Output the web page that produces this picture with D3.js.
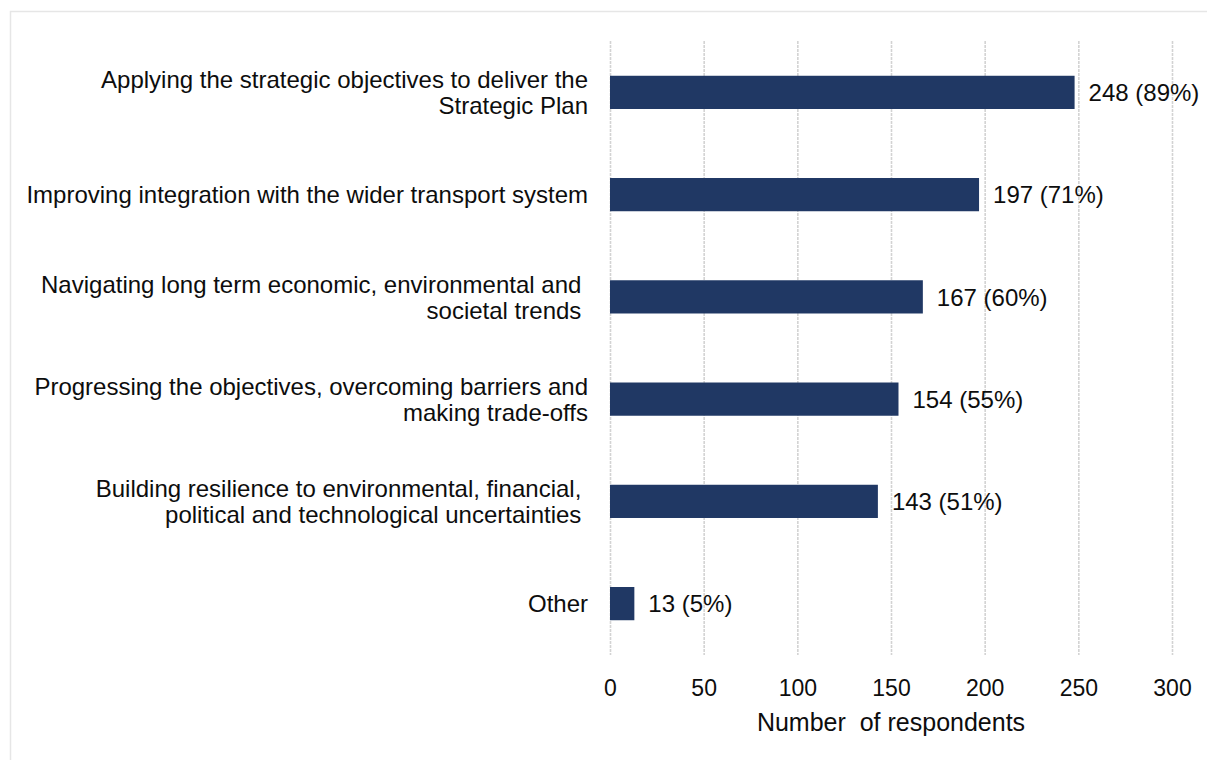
<!DOCTYPE html>
<html>
<head>
<meta charset="utf-8">
<script src="https://cdn.jsdelivr.net/npm/d3@7/dist/d3.min.js"></script>
<style>
  html, body { margin: 0; padding: 0; background: #fff; }
  svg text { font-family: "Liberation Sans", Arial, sans-serif; fill: #0d0d0d; white-space: pre; }
</style>
</head>
<body>
<svg id="chart" width="1207" height="760"></svg>
<script>
// Categories (each entry is the lines of its label)
const categories = [
  ["Applying the strategic objectives to deliver the", "Strategic Plan"],
  ["Improving integration with the wider transport system"],
  ["Navigating long term economic, environmental and ", "societal trends "],
  ["Progressing the objectives, overcoming barriers and", "making trade-offs"],
  ["Building resilience to environmental, financial, ", "political and technological uncertainties "],
  ["Other"]
];
const respondents = [248, 197, 167, 154, 143, 13];
const percents = [89, 71, 60, 55, 51, 5];
const xTicks = [0, 50, 100, 150, 200, 250, 300];
const axisTitle = "Number  of respondents";

const svg = d3.select("#chart");

// light outer frame
svg.append("rect")
  .attr("x", 10.5).attr("y", 11.5)
  .attr("width", 1220).attr("height", 780)
  .attr("fill", "none").attr("stroke", "#e6e6e6").attr("stroke-width", 1.5);

const plot = { left: 610, right: 1172, top: 41, bottom: 655 };

const x = d3.scaleLinear().domain([0, 300]).range([plot.left, plot.right]);
const y = d3.scaleBand()
  .domain(d3.range(categories.length))
  .range([plot.top, plot.bottom])
  .paddingInner(0.675).paddingOuter(0.34);

// vertical gridlines
svg.append("g")
  .selectAll("line")
  .data(xTicks)
  .join("line")
  .attr("x1", d => x(d) + 0.5).attr("x2", d => x(d) + 0.5)
  .attr("y1", plot.top).attr("y2", plot.bottom)
  .attr("stroke", "#d3d3d3").attr("stroke-width", 1.6)
  .attr("stroke-dasharray", "3,1");

// x axis tick labels
const xAxis = d3.axisBottom(x).tickValues(xTicks).tickSize(0).tickPadding(0);
const gx = svg.append("g")
  .attr("transform", `translate(0, ${plot.bottom + 25})`)
  .call(xAxis);
gx.select(".domain").remove();
gx.selectAll("text")
  .attr("font-size", 23)
  .attr("font-family", "Liberation Sans, Arial, sans-serif")
  .attr("fill", "#0d0d0d")
  .attr("dy", "0.71em");

svg.append("text")
  .attr("x", (plot.left + plot.right) / 2)
  .attr("y", 731)
  .attr("text-anchor", "middle")
  .attr("font-size", 25)
  .text(axisTitle);

// bars
svg.append("g")
  .selectAll("rect")
  .data(respondents)
  .join("rect")
  .attr("x", x(0))
  .attr("y", (d, i) => y(i))
  .attr("width", d => x(d) - x(0))
  .attr("height", y.bandwidth())
  .attr("fill", "#203864");

// value labels
svg.append("g")
  .selectAll("text")
  .data(respondents)
  .join("text")
  .attr("x", d => x(d) + 14)
  .attr("y", (d, i) => y(i) + y.bandwidth() / 2)
  .attr("dy", "0.36em")
  .attr("font-size", 24)
  .text((d, i) => `${d} (${percents[i]}%)`);

// category labels
const lineH = 26;
const catG = svg.append("g");
categories.forEach((lines, i) => {
  const cy = y(i) + y.bandwidth() / 2;
  const t = catG.append("text")
    .attr("x", 588)
    .attr("text-anchor", "end")
    .attr("font-size", 24);
  lines.forEach((ln, j) => {
    t.append("tspan")
      .attr("x", 588)
      .attr("y", cy + (j - (lines.length - 1) / 2) * lineH)
      .attr("dy", "0.36em")
      .text(ln);
  });
});
</script>
</body>
</html>
